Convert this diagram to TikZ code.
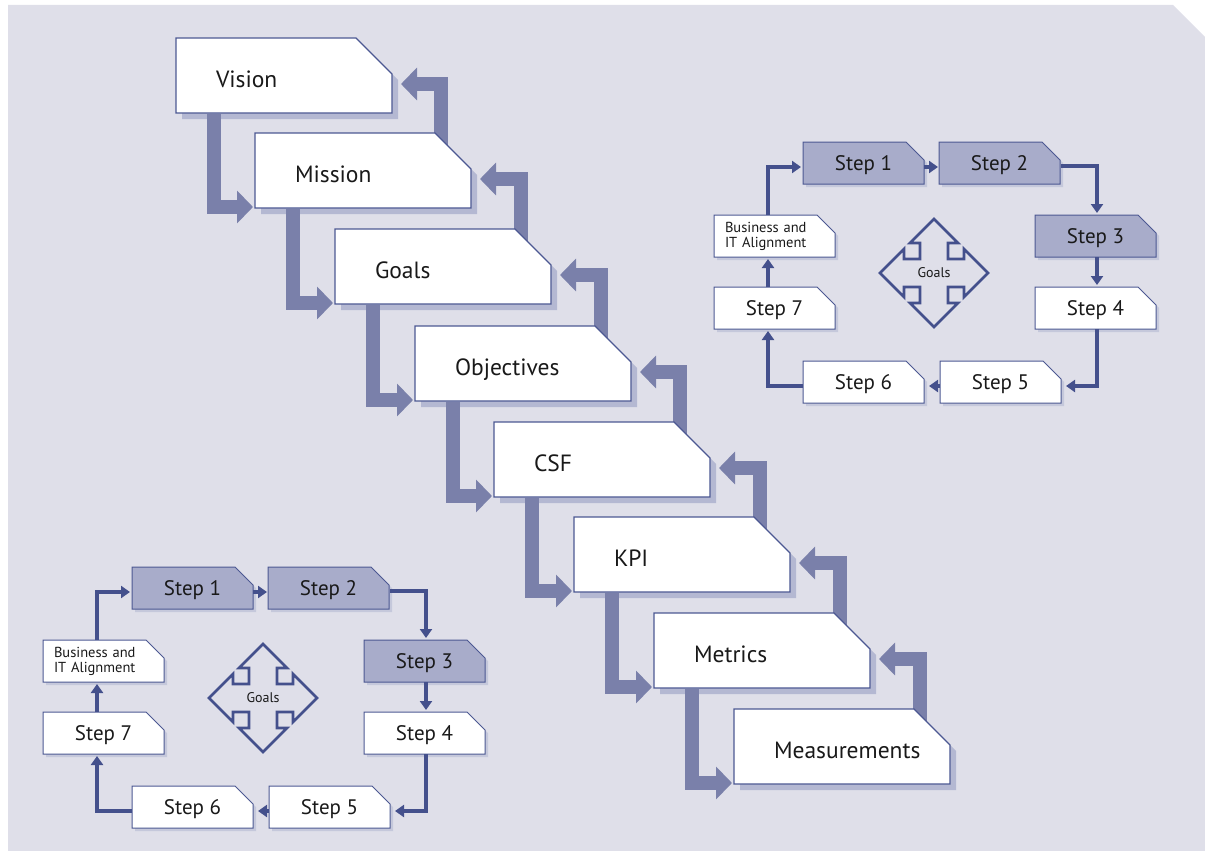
\documentclass[tikz,border=0pt]{standalone}
\usepackage{fontspec}
\setmainfont{PT Sans}
\usetikzlibrary{arrows.meta,calc}

\definecolor{bgcol}{RGB}{223,223,233}
\definecolor{framecol}{RGB}{76,88,146}
\definecolor{shadecol}{RGB}{180,184,210}
\definecolor{flowcol}{RGB}{122,128,170}
\definecolor{linkcol}{RGB}{68,80,140}
\definecolor{stepfill}{RGB}{168,172,202}
\definecolor{inkcol}{RGB}{25,25,25}

\pgfdeclarelayer{canvas}
\pgfdeclarelayer{underlay}
\pgfsetlayers{canvas,underlay,main}

\tikzset{
  stageframe/.style={draw=framecol, fill=white, line width=1.3pt, line join=miter},
  stagetext/.style={rectangle, inner sep=0pt, outer sep=0pt, anchor=north west,
    minimum width=216pt, minimum height=75pt, text width=136pt, align=left,
    text height=24pt, text depth=0pt, text=inkcol,
    font=\fontsize{23.5}{26}\selectfont},
  stepframe/.style={draw=framecol, line width=1pt, line join=miter},
  steptext/.style={rectangle, inner sep=0pt, outer sep=0pt, anchor=north west,
    minimum width=121pt, minimum height=42pt, text=inkcol,
    text height=14pt, text depth=0pt, font=\fontsize{21}{23}\selectfont},
  notetext/.style={steptext, text height=, text depth=, text width=99pt,
    align=left, font=\fontsize{14.5}{15}\selectfont},
  hubtext/.style={font=\fontsize{14}{15}\selectfont, text=inkcol, inner sep=0pt},
  hubline/.style={draw=linkcol, line width=2.8pt, line join=miter},
  flow/.style={draw=flowcol, line width=13.5pt, line join=miter,
    -{Triangle[width=32pt,length=16pt]}},
  link/.style={draw=linkcol, line width=3.3pt, line join=miter,
    -{Triangle[width=12pt,length=9pt]}},
}

% Stage box with a cut upper-right corner: name, x, y, label
\newcommand\stage[4]{%
  \fill[shadecol] ({#2+6},{#3+6}) -- ++(180,0) -- ++(36,36) -- ++(0,39)
    -- ++(-216,0) -- cycle;
  \path[stageframe] (#2,#3) -- ++(180,0) -- ++(36,36) -- ++(0,39)
    -- ++(-216,0) -- cycle;
  \node[stagetext] (#1) at (#2,#3) {#4};
}

% Small cycle box: [text style] name, x, y, fill, label
\newcommand\cyclebox[6][steptext]{%
  \fill[shadecol!60!bgcol] ({#3+3},{#4+3}) -- ++(103,0) -- ++(18,18) -- ++(0,24)
    -- ++(-121,0) -- cycle;
  \path[stepframe, fill=#5] (#3,#4) -- ++(103,0) -- ++(18,18) -- ++(0,24)
    -- ++(-121,0) -- cycle;
  \node[#1] (#2) at (#3,#4) {#6};
}

% One improvement cycle; #1 name prefix, (#2,#3) top-left corner of Step 1
\newcommand\alignmentcycle[3]{%
  \begin{scope}[name prefix=#1]
    \cyclebox{s1}{#2}{#3}{stepfill}{Step 1}
    \cyclebox{s2}{#2+136}{#3}{stepfill}{Step 2}
    \cyclebox{s3}{#2+232}{#3+73}{stepfill}{Step 3}
    \cyclebox{s4}{#2+232}{#3+145}{white}{Step 4}
    \cyclebox{s5}{#2+137}{#3+219}{white}{Step 5}
    \cyclebox{s6}{#2}{#3+219}{white}{Step 6}
    \cyclebox{s7}{#2-89}{#3+145}{white}{Step 7}
    \cyclebox[notetext]{bia}{#2-89}{#3+73}{white}{Business and\\IT Alignment}
    \node[hubtext] (hub) at ({#2+131},{#3+131}) {Goals};
    % four-way arrow around the hub label
    \begin{scope}[shift={({#2+131},{#3+131})}]
      \draw[hubline] (0,-54) -- (24,-30) -- (14,-30) -- (14,-14) -- (30,-14)
        -- (30,-24) -- (54,0) -- (30,24) -- (30,14) -- (14,14) -- (14,30)
        -- (24,30) -- (0,54) -- (-24,30) -- (-14,30) -- (-14,14) -- (-30,14)
        -- (-30,24) -- (-54,0) -- (-30,-24) -- (-30,-14) -- (-14,-14)
        -- (-14,-30) -- (-24,-30) -- cycle;
    \end{scope}
    % connectors round the cycle
    \draw[link] ($(s1.north west)+(121,25)$) -- ($(s2.north west)+(-1,25)$);
    \draw[link] ($(s2.north west)+(122,24)$) -| ($(s3.north west)+(62,-2)$);
    \draw[link] ($(s3.south west)+(62,0)$) -- ($(s4.north west)+(62,-2)$);
    \draw[link] ($(s4.south west)+(62,0)$) |- ($(s5.north west)+(126,25)$);
    \draw[link] ($(s5.north west)+(0,25)$) -- ($(s6.north west)+(126,25)$);
    \draw[link] ($(s6.north west)+(0,25)$) -| ($(s7.south west)+(54,2)$);
    \draw[link] ($(s7.north west)+(54,0)$) -- ($(bia.south west)+(54,2)$);
    \draw[link] ($(bia.north west)+(54,0)$) |- ($(s1.north west)+(-2,25)$);
  \end{scope}%
}

\begin{document}
\begin{tikzpicture}[x=1pt,y=-1pt]
  \useasboundingbox (0,0) rectangle (1205,851);
  \begin{pgfonlayer}{canvas}
    \fill[bgcol] (8,5) -- (1173,5) -- (1205,37) -- (1205,851) -- (8,851) -- cycle;
  \end{pgfonlayer}

  % the cascade of stages
  \stage{vision}{176}{38}{Vision}
  \stage{mission}{255}{133}{Mission}
  \stage{goals}{335}{229}{Goals}
  \stage{objs}{415}{326}{Objectives}
  \stage{csf}{494}{422}{CSF}
  \stage{kpi}{574}{517}{KPI}
  \stage{metrics}{654}{613}{Metrics}
  \stage{meas}{734}{709}{Measurements}

  % downward flow, each stage into the next
  \foreach \a/\b in {vision/mission, mission/goals, goals/objs, objs/csf,
                     csf/kpi, kpi/metrics, metrics/meas}{
    \draw[flow] ($(\a.south west)+(38,1)$) |- ($(\b.south west)+(-2,-1)$);
  }
  % feedback flow, each stage back to the one above
  \begin{pgfonlayer}{underlay}
    \foreach \a/\b in {vision/mission, mission/goals, goals/objs, objs/csf,
                       csf/kpi, kpi/metrics, metrics/meas}{
      \draw[flow] ($(\b.north west)+(186,20)$) |- ($(\a.north west)+(225,46)$);
    }
  \end{pgfonlayer}

  % the two improvement cycles
  \alignmentcycle{tr-}{803}{142}
  \alignmentcycle{bl-}{132}{567}
\end{tikzpicture}
\end{document}
